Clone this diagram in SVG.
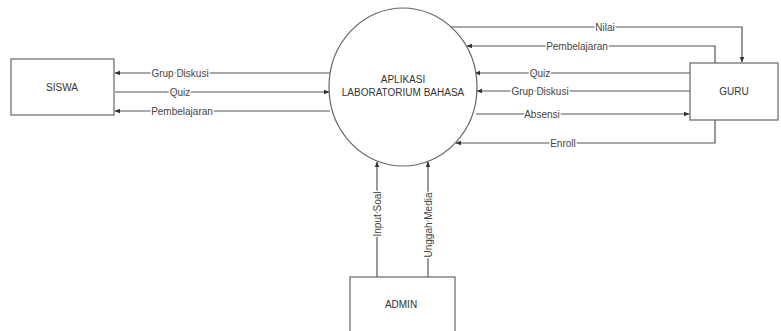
<svg xmlns="http://www.w3.org/2000/svg" width="781" height="331" viewBox="0 0 781 331">
<defs>
<marker id="arr" viewBox="0 0 10 10" refX="9" refY="5" markerWidth="6" markerHeight="6" orient="auto" markerUnits="userSpaceOnUse">
<path d="M0,1 L10,5 L0,9 z" fill="#333"/>
</marker>
</defs>
<style>
.node{fill:#fff;stroke:#666;stroke-width:1.2}
.nt{font-family:"Liberation Sans",Arial,sans-serif;font-size:10px;fill:#333;text-anchor:middle}
.ln{fill:none;stroke:#555;stroke-width:1.2;marker-end:url(#arr)}
.lb{font-family:"Liberation Sans",Arial,sans-serif;font-size:10px;fill:#444;text-anchor:middle;stroke:#fff;stroke-width:3;paint-order:stroke}
</style>
<rect width="781" height="331" fill="#fff"/>
<g id="connectors">
<path class="ln" d="M330,73 H115"/>
<path class="ln" d="M115,92 H329"/>
<path class="ln" d="M330,111 H115"/>
<path class="ln" d="M451,27 H742 V62"/>
<path class="ln" d="M715,63 V46 H467"/>
<path class="ln" d="M690,73 H475"/>
<path class="ln" d="M690,91 H477"/>
<path class="ln" d="M476,114 H689"/>
<path class="ln" d="M715,120 V143 H456"/>
<path class="ln" d="M377,277 V162"/>
<path class="ln" d="M428,277 V162"/>
<text class="lb" x="180" y="76.5">Grup Diskusi</text>
<text class="lb" x="180" y="95.5">Quiz</text>
<text class="lb" x="182" y="114.5">Pembelajaran</text>
<text class="lb" x="605" y="30.5">Nilai</text>
<text class="lb" x="577" y="49.5">Pembelajaran</text>
<text class="lb" x="540" y="76.5">Quiz</text>
<text class="lb" x="540" y="94.5">Grup Diskusi</text>
<text class="lb" x="542" y="117.5">Absensi</text>
<text class="lb" x="563" y="146.5">Enroll</text>
<text class="lb" transform="translate(380.5,214) rotate(-90)">Input Soal</text>
<text class="lb" transform="translate(431.5,225) rotate(-90)">Unggah Media</text>
</g>
<g id="siswa">
<rect class="node" x="11" y="59" width="103" height="56"/>
<text class="nt" x="62" y="91">SISWA</text>
</g>
<g id="aplikasi">
<ellipse class="node" cx="403" cy="87" rx="74" ry="79"/>
<text class="nt" x="403" y="83">APLIKASI</text>
<text class="nt" x="403" y="96">LABORATORIUM BAHASA</text>
</g>
<g id="guru">
<rect class="node" x="690" y="63" width="88" height="57"/>
<text class="nt" x="734" y="95">GURU</text>
</g>
<g id="admin">
<rect class="node" x="350" y="277" width="105" height="60"/>
<text class="nt" x="401" y="308">ADMIN</text>
</g>
</svg>
